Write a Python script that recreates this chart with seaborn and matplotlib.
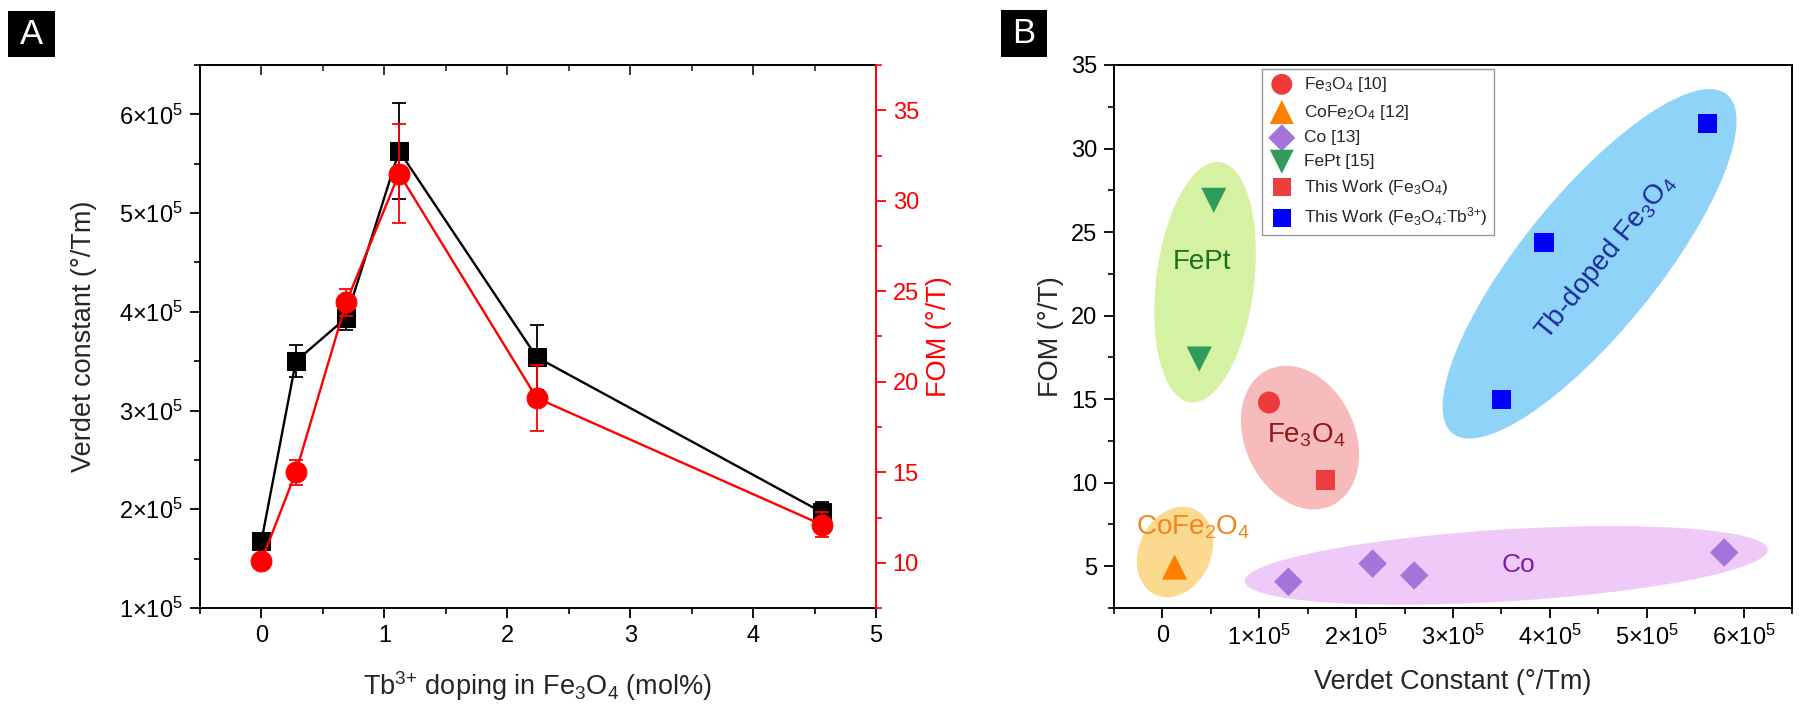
import numpy as np
import pandas as pd
import matplotlib
matplotlib.use("Agg")
import matplotlib.pyplot as plt
import seaborn as sns
from matplotlib.patches import Ellipse, Rectangle
from matplotlib.transforms import ScaledTranslation
from matplotlib.ticker import MultipleLocator, FixedLocator, FixedFormatter

# ---------------- data ----------------
doping = [0.0, 0.28, 0.69, 1.12, 2.24, 4.56]
verdet = [1.68e5, 3.50e5, 3.94e5, 5.63e5, 3.54e5, 1.97e5]
verdet_err = [5e3, 1.6e4, 1.2e4, 4.9e4, 3.3e4, 1.0e4]
fom = [10.1, 15.0, 24.4, 31.5, 19.1, 12.1]
fom_err = [0.3, 0.7, 0.75, 2.75, 1.8, 0.7]

fe3o4_ref_v = [1.10e5]
fe3o4_ref_f = [14.8]
cofe2o4_v = [0.125e5]
cofe2o4_f = [4.95]
co_v = [1.30e5, 2.17e5, 2.60e5, 5.80e5]
co_f = [4.07, 5.16, 4.45, 5.82]
fept_v = [0.53e5, 0.38e5]
fept_f = [26.9, 17.4]
tw_fe3o4_v = [1.68e5]
tw_fe3o4_f = [10.16]
tw_tb_v = [3.50e5, 3.94e5, 5.63e5]
tw_tb_f = [15.0, 24.4, 31.5]

a_xticks = [0, 1, 2, 3, 4, 5]
a_yticks = [1e5, 2e5, 3e5, 4e5, 5e5, 6e5]
a_ylabels = ["1×10$^5$", "2×10$^5$", "3×10$^5$", "4×10$^5$", "5×10$^5$", "6×10$^5$"]
a_y2ticks = [10, 15, 20, 25, 30, 35]
b_xticks = [0, 1e5, 2e5, 3e5, 4e5, 5e5, 6e5]
b_xlabels = ["0", "1×10$^5$", "2×10$^5$", "3×10$^5$", "4×10$^5$", "5×10$^5$", "6×10$^5$"]
b_yticks = [5, 10, 15, 20, 25, 30, 35]

# ---------------- style ----------------
sns.set_theme(style="ticks")
plt.rcParams["font.family"] = ["Liberation Sans", "DejaVu Sans"]
plt.rcParams["mathtext.fontset"] = "custom"
plt.rcParams["mathtext.rm"] = "Liberation Sans"
plt.rcParams["mathtext.it"] = "Liberation Sans:italic"
plt.rcParams["mathtext.bf"] = "Liberation Sans:bold"
plt.rcParams["axes.linewidth"] = 1.4

DPI = 100
fig = plt.figure(figsize=(18, 7.14), dpi=DPI)
fig.patch.set_facecolor("white")

TICK_FS = 17
LABEL_FS = 19.5

def style_ticks(ax, color="black"):
    ax.tick_params(which="major", length=7, width=1.3, labelsize=TICK_FS, pad=5,
                   colors=color, direction="out")
    ax.tick_params(which="minor", length=4, width=1.2, colors=color, direction="out")

# ---------------- panel A ----------------
axA = fig.add_axes([200 / 1800, 1 - 608 / 714, 676 / 1800, 543 / 714])
axA.set_facecolor("white")
sns.lineplot(x=doping, y=verdet, ax=axA, color="black", marker="s", markersize=13,
             markeredgecolor="black", linewidth=1.7, sort=False, zorder=3)
axA.errorbar(doping, verdet, yerr=verdet_err, fmt="none", ecolor="black",
             elinewidth=1.3, capsize=5, capthick=1.3, zorder=4)
axA.set_xlim(-0.5, 5)
axA.set_ylim(1e5, 6.5e5)
axA.xaxis.set_major_locator(FixedLocator(a_xticks))
axA.xaxis.set_minor_locator(MultipleLocator(0.5))
axA.yaxis.set_major_locator(FixedLocator(a_yticks))
axA.yaxis.set_major_formatter(FixedFormatter(a_ylabels))
axA.yaxis.set_minor_locator(MultipleLocator(0.5e5))
style_ticks(axA)
axA.spines["right"].set_visible(False)
for s in ["left", "bottom", "top"]:
    axA.spines[s].set_color("black")
axA.set_xlabel("Tb$^{3{+}}$ doping in Fe$_3$O$_4$ (mol%)", fontsize=LABEL_FS, labelpad=16)
axA.set_ylabel("Verdet constant (°/Tm)", fontsize=LABEL_FS, labelpad=16)

topA = axA.secondary_xaxis("top")
topA.xaxis.set_major_locator(FixedLocator(a_xticks))
topA.xaxis.set_minor_locator(MultipleLocator(0.5))
topA.tick_params(which="major", direction="in", length=7, width=1.3, labeltop=False)
topA.tick_params(which="minor", direction="in", length=4, width=1.2)
topA.spines["top"].set_linewidth(1.4)

axA2 = axA.twinx()
sns.lineplot(x=doping, y=fom, ax=axA2, color="#ff0000", marker="o", markersize=15,
             markeredgecolor="#ff0000", linewidth=1.7, sort=False, zorder=3)
axA2.errorbar(doping, fom, yerr=fom_err, fmt="none", ecolor="#ff0000",
              elinewidth=1.3, capsize=5, capthick=1.3, zorder=4)
axA2.set_ylim(7.5, 37.5)
axA2.yaxis.set_major_locator(FixedLocator(a_y2ticks))
axA2.yaxis.set_minor_locator(MultipleLocator(2.5))
style_ticks(axA2, color="#ff0000")
axA2.spines["right"].set_color("#ff0000")
axA2.spines["right"].set_linewidth(1.4)
axA2.spines["left"].set_visible(False)
axA2.spines["top"].set_visible(False)
axA2.spines["bottom"].set_visible(False)
axA2.set_ylabel("FOM (°/T)", fontsize=LABEL_FS, color="#ff0000", labelpad=5)

# ---------------- panel B ----------------
axB = fig.add_axes([1114 / 1800, 1 - 608 / 714, 678 / 1800, 543 / 714])
axB.set_facecolor("white")
axB.set_xlim(-0.5e5, 6.5e5)
axB.set_ylim(2.5, 35)

def add_ellipse(ax, cx, cy, w_px, h_px, ang, color):
    tr = fig.dpi_scale_trans + ScaledTranslation(cx, cy, ax.transData)
    e = Ellipse((0, 0), w_px / DPI, h_px / DPI, angle=ang, transform=tr,
                facecolor=color, edgecolor="none", zorder=1)
    ax.add_patch(e)

add_ellipse(axB, 0.44e5, 22.0, 242, 98, 83, "#d4f2a2")
add_ellipse(axB, 1.42e5, 12.7, 150, 110, 115, "#f8bbbb")
add_ellipse(axB, 0.13e5, 5.85, 94, 72, 65, "#fbd98e")
add_ellipse(axB, 3.55e5, 5.05, 524, 72, 3.5, "#efc9f8")
add_ellipse(axB, 4.41e5, 23.1, 436, 136, 51, "#8fd3f8")

sns.scatterplot(x=fe3o4_ref_v, y=fe3o4_ref_f, ax=axB, marker="o", s=250,
                color="#ee3a3a", edgecolor="none", label="Fe$_3$O$_4$ [10]", zorder=3)
sns.scatterplot(x=cofe2o4_v, y=cofe2o4_f, ax=axB, marker="^", s=330,
                color="#ff7f00", edgecolor="none", label="CoFe$_2$O$_4$ [12]", zorder=3)
sns.scatterplot(x=co_v, y=co_f, ax=axB, marker="D", s=210,
                color="#a374da", edgecolor="none", label="Co [13]", zorder=3)
sns.scatterplot(x=fept_v, y=fept_f, ax=axB, marker="v", s=330,
                color="#2f9c5c", edgecolor="none", label="FePt [15]", zorder=3)
sns.scatterplot(x=tw_fe3o4_v, y=tw_fe3o4_f, ax=axB, marker="s", s=190,
                color="#ee3d3d", edgecolor="none", label="This Work (Fe$_3$O$_4$)", zorder=3)
sns.scatterplot(x=tw_tb_v, y=tw_tb_f, ax=axB, marker="s", s=190,
                color="#0000ff", edgecolor="none",
                label="This Work (Fe$_3$O$_4$:Tb$^{3{+}}$)", zorder=3)

leg = axB.legend(loc="upper left", bbox_to_anchor=(0.218, 0.993), borderaxespad=0,
                 fontsize=12.5, frameon=True, fancybox=False, edgecolor="#999999",
                 framealpha=1, handletextpad=0.5, labelspacing=0.5, handlelength=1.6,
                 borderpad=0.35, markerscale=0.95)
leg.get_frame().set_linewidth(1.0)

axB.text(0.41e5, 23.2, "FePt", color="#1f6e1f", fontsize=20, ha="center", va="center", zorder=4)
axB.text(1.48e5, 12.84, "Fe$_3$O$_4$", color="#8e1a1a", fontsize=20, ha="center", va="center", zorder=4)
axB.text(0.31e5, 7.35, "CoFe$_2$O$_4$", color="#f5841e", fontsize=20, ha="center", va="center", zorder=4)
axB.text(3.68e5, 5.06, "Co", color="#7a1fa0", fontsize=19, ha="center", va="center", zorder=4)
axB.text(4.58e5, 23.5, "Tb-doped Fe$_3$O$_4$", color="#1b2a9c", fontsize=20,
         ha="center", va="center", rotation=51, rotation_mode="anchor", zorder=4)

axB.xaxis.set_major_locator(FixedLocator(b_xticks))
axB.xaxis.set_major_formatter(FixedFormatter(b_xlabels))
axB.xaxis.set_minor_locator(MultipleLocator(0.5e5))
axB.yaxis.set_major_locator(FixedLocator(b_yticks))
axB.yaxis.set_minor_locator(MultipleLocator(2.5))
style_ticks(axB)
for s in axB.spines.values():
    s.set_color("black")
    s.set_linewidth(1.4)
axB.set_xlabel("Verdet Constant (°/Tm)", fontsize=LABEL_FS, labelpad=14)
axB.set_ylabel("FOM (°/T)", fontsize=LABEL_FS, labelpad=5)

# ---------------- panel labels ----------------
for (x0, y0, x1, y1, lab) in [(8, 11, 55, 57, "A"), (1001, 10, 1047, 57, "B")]:
    fig.patches.append(Rectangle((x0 / 1800, 1 - y1 / 714), (x1 - x0) / 1800, (y1 - y0) / 714,
                                 transform=fig.transFigure, facecolor="black",
                                 edgecolor="none", zorder=5))
    fig.text((x0 + x1) / 2 / 1800, 1 - (y0 + y1) / 2 / 714, lab, color="white",
             fontsize=25, ha="center", va="center", zorder=6)

fig.savefig("out.png", dpi=DPI, facecolor="white")
